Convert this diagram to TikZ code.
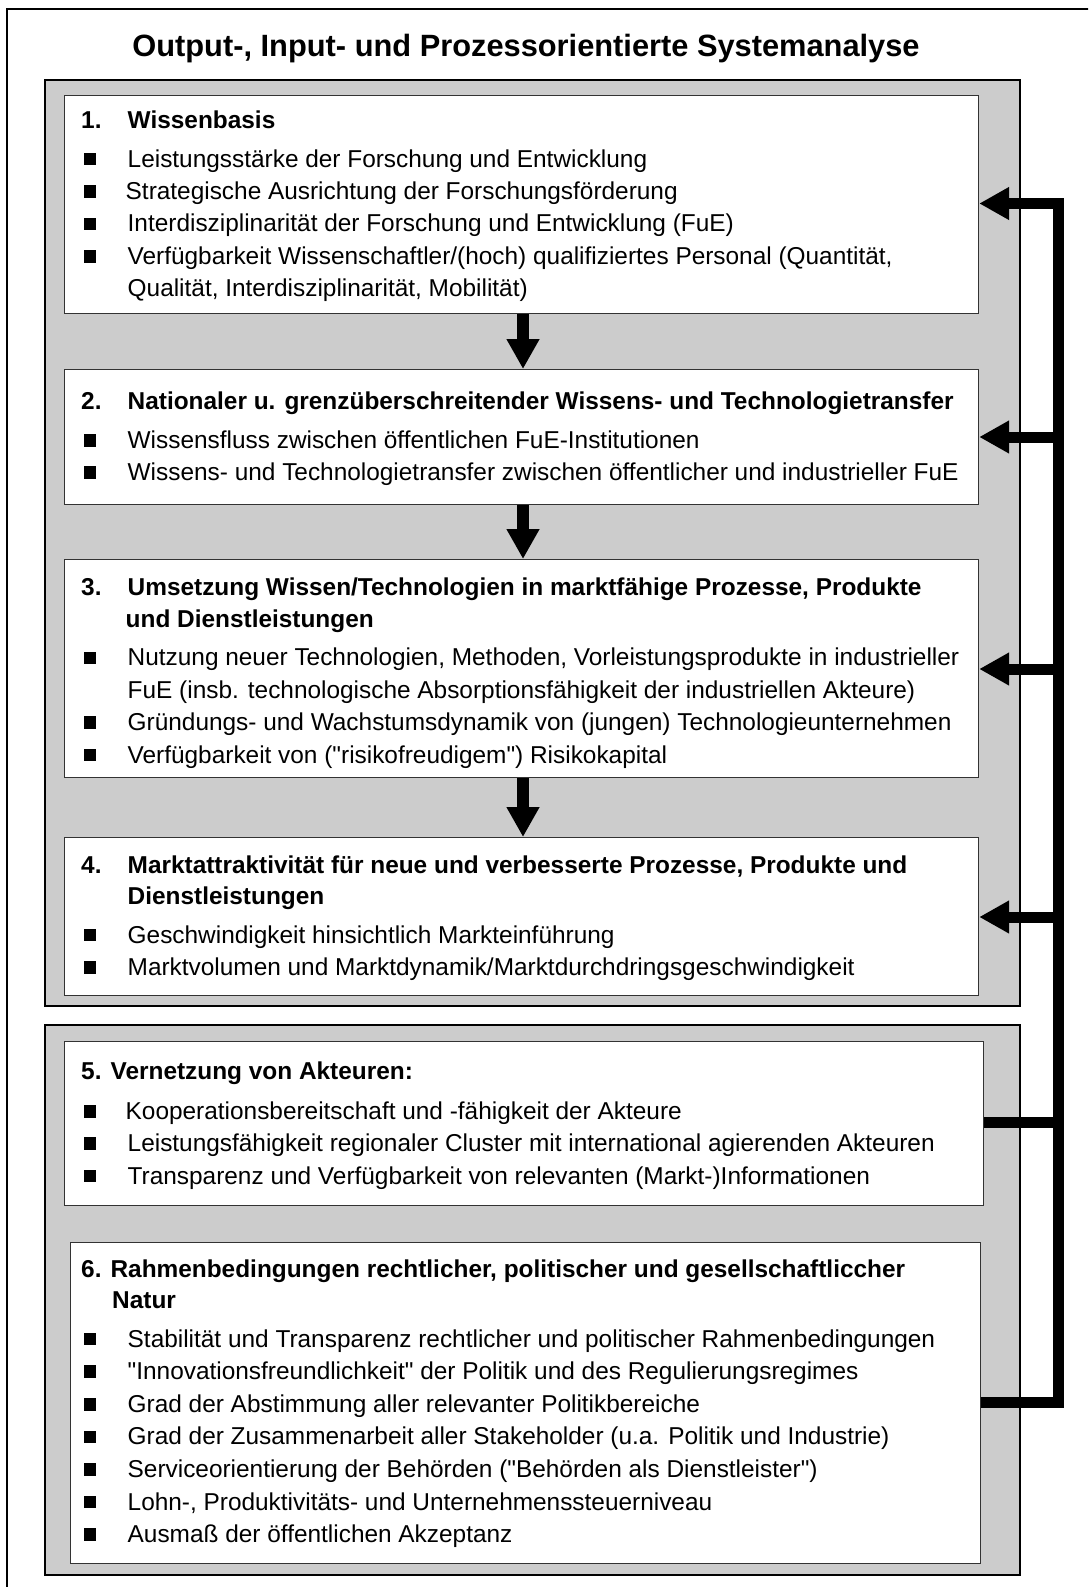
\documentclass[tikz,border=0pt]{standalone}
\usepackage{fontspec}
\setmainfont{Liberation Sans}[Ligatures=TeXOff]
\usetikzlibrary{arrows.meta}
\definecolor{panelgray}{HTML}{CCCCCC}
\definecolor{boxline}{HTML}{333333}
\newcommand\myitem[4]{%
  \node[bul] (#1q) at (83.5,{#3-1.5}) {};
  \node[txt] (#1) at (#2,#3) {#4};}
\begin{document}
\begin{tikzpicture}[x=1pt,y=-1pt,
  panel/.style={draw=black,line width=1.8pt,fill=panelgray,inner sep=0pt,anchor=north west},
  card/.style={draw=boxline,line width=1.2pt,fill=white,inner sep=0pt,anchor=north west},
  txt/.style={anchor=base west,inner sep=0pt,font=\fontsize{24.4}{30}\selectfont},
  head/.style={anchor=base west,inner sep=0pt,font=\fontsize{24.4}{30}\selectfont\bfseries},
  bul/.style={fill=black,minimum size=12.5pt,inner sep=0pt,anchor=south west},
  downarr/.style={line width=12pt,-{Triangle[length=30pt,width=31pt]}},
  fbarr/.style={line width=11pt,line join=miter,-{Triangle[length=30pt,width=31pt]}},
  fbline/.style={line width=11pt,line join=miter}]
\useasboundingbox (0,0) rectangle (1088,1587);
\begin{scope}
\clip (0,0) rectangle (1088,1587);
\draw[line width=2pt] (7,9) rectangle (1110,1610);
\end{scope}
\node[font=\fontsize{30.8}{36}\selectfont\bfseries,anchor=base,inner sep=0pt] (title) at (526,57) {Output-, Input- und Prozessorientierte Systemanalyse};
% panels
\node[panel,minimum width=975pt,minimum height=926pt] (pA) at (44,79) {};
\node[panel,minimum width=975pt,minimum height=550pt] (pB) at (44,1024) {};
% cards
\node[card,minimum width=914pt,minimum height=218pt] (b1) at (64,95) {};
\node[card,minimum width=914pt,minimum height=135pt] (b2) at (64,369) {};
\node[card,minimum width=914pt,minimum height=218pt] (b3) at (64,559) {};
\node[card,minimum width=914pt,minimum height=158pt] (b4) at (64,837) {};
\node[card,minimum width=919pt,minimum height=164pt] (b5) at (64,1041) {};
\node[card,minimum width=910pt,minimum height=321pt] (b6) at (70,1242) {};
% box 1
\node[head] (h1n) at (81,128.5) {1.};
\node[head] (h1) at (127.5,128.5) {Wissenbasis};
\myitem{t1a}{127.5}{167}{Leistungsstärke der Forschung und Entwicklung}
\myitem{t1b}{125.5}{199.4}{Strategische Ausrichtung der Forschungsförderung}
\myitem{t1c}{127.5}{231.8}{Interdisziplinarität der Forschung und Entwicklung (FuE)}
\myitem{t1d}{127.5}{264.2}{Verfügbarkeit Wissenschaftler/(hoch) qualifiziertes Personal (Quantität,}
\node[txt] (t1e) at (127.5,296.6) {Qualität, Interdisziplinarität, Mobilität)};
% box 2
\node[head] (h2n) at (81,409.8) {2.};
\node[head] (h2) at (127.5,409.8) {Nationaler u. grenzüberschreitender Wissens- und Technologietransfer};
\myitem{t2a}{127.5}{448.2}{Wissensfluss zwischen öffentlichen FuE-Institutionen}
\myitem{t2b}{127.5}{480.6}{Wissens- und Technologietransfer zwischen öffentlicher und industrieller FuE}
% box 3
\node[head] (h3n) at (81,595) {3.};
\node[head] (h3) at (127.5,595) {Umsetzung Wissen/Technologien in marktfähige Prozesse, Produkte};
\node[head] (h3b) at (125.5,627.4) {und Dienstleistungen};
\myitem{t3a}{127.5}{665.8}{Nutzung neuer Technologien, Methoden, Vorleistungsprodukte in industrieller}
\node[txt] (t3b) at (127.5,698.2) {FuE (insb. technologische Absorptionsfähigkeit der industriellen Akteure)};
\myitem{t3c}{127.5}{730.6}{Gründungs- und Wachstumsdynamik von (jungen) Technologieunternehmen}
\myitem{t3d}{127.5}{763}{Verfügbarkeit von ("risikofreudigem") Risikokapital}
% box 4
\node[head] (h4n) at (81,873.3) {4.};
\node[head] (h4) at (127.5,873.3) {Marktattraktivität für neue und verbesserte Prozesse, Produkte und};
\node[head] (h4b) at (127.5,904.7) {Dienstleistungen};
\myitem{t4a}{127.5}{943.1}{Geschwindigkeit hinsichtlich Markteinführung}
\myitem{t4b}{127.5}{975.5}{Marktvolumen und Marktdynamik/Marktdurchdringsgeschwindigkeit}
% box 5
\node[head] (h5) at (81,1079.7) {5. Vernetzung von Akteuren:};
\myitem{t5a}{125.5}{1119.2}{Kooperationsbereitschaft und -fähigkeit der Akteure}
\myitem{t5b}{127.5}{1151.6}{Leistungsfähigkeit regionaler Cluster mit international agierenden Akteuren}
\myitem{t5c}{127.5}{1184}{Transparenz und Verfügbarkeit von relevanten (Markt-)Informationen}
% box 6
\node[head] (h6) at (81,1277) {6. Rahmenbedingungen rechtlicher, politischer und gesellschaftliccher};
\node[head] (h6b) at (112,1308.5) {Natur};
\myitem{t6a}{127.5}{1347}{Stabilität und Transparenz rechtlicher und politischer Rahmenbedingungen}
\myitem{t6b}{127.5}{1379.6}{"Innovationsfreundlichkeit" der Politik und des Regulierungsregimes}
\myitem{t6c}{127.5}{1412.2}{Grad der Abstimmung aller relevanter Politikbereiche}
\myitem{t6d}{127.5}{1444.8}{Grad der Zusammenarbeit aller Stakeholder (u.a. Politik und Industrie)}
\myitem{t6e}{127.5}{1477.4}{Serviceorientierung der Behörden ("Behörden als Dienstleister")}
\myitem{t6f}{127.5}{1510}{Lohn-, Produktivitäts- und Unternehmenssteuerniveau}
\myitem{t6g}{127.5}{1542.6}{Ausmaß der öffentlichen Akzeptanz}
% down arrows
\coordinate (ax) at (523,0);
\draw[downarr] (b1.south -| ax) -- (b2.north -| ax);
\draw[downarr] (b2.south -| ax) -- (b3.north -| ax);
\draw[downarr] (b3.south -| ax) -- (b4.north -| ax);
% feedback lines
\coordinate (r1) at (1058,203.5);
\coordinate (r2) at (1058,437);
\coordinate (r3) at (1058,669);
\coordinate (r4) at (1058,917);
\coordinate (r5) at (1058,1122);
\coordinate (r6) at (1058,1402);
\draw[fbarr] (b6.east |- r6) -- (r6) -- (r1) -- (b1.east |- r1);
\draw[fbarr] (r2) -- (b2.east |- r2);
\draw[fbarr] (r3) -- (b3.east |- r3);
\draw[fbarr] (r4) -- (b4.east |- r4);
\draw[fbline] (b5.east |- r5) -- (r5);
\end{tikzpicture}
\end{document}
